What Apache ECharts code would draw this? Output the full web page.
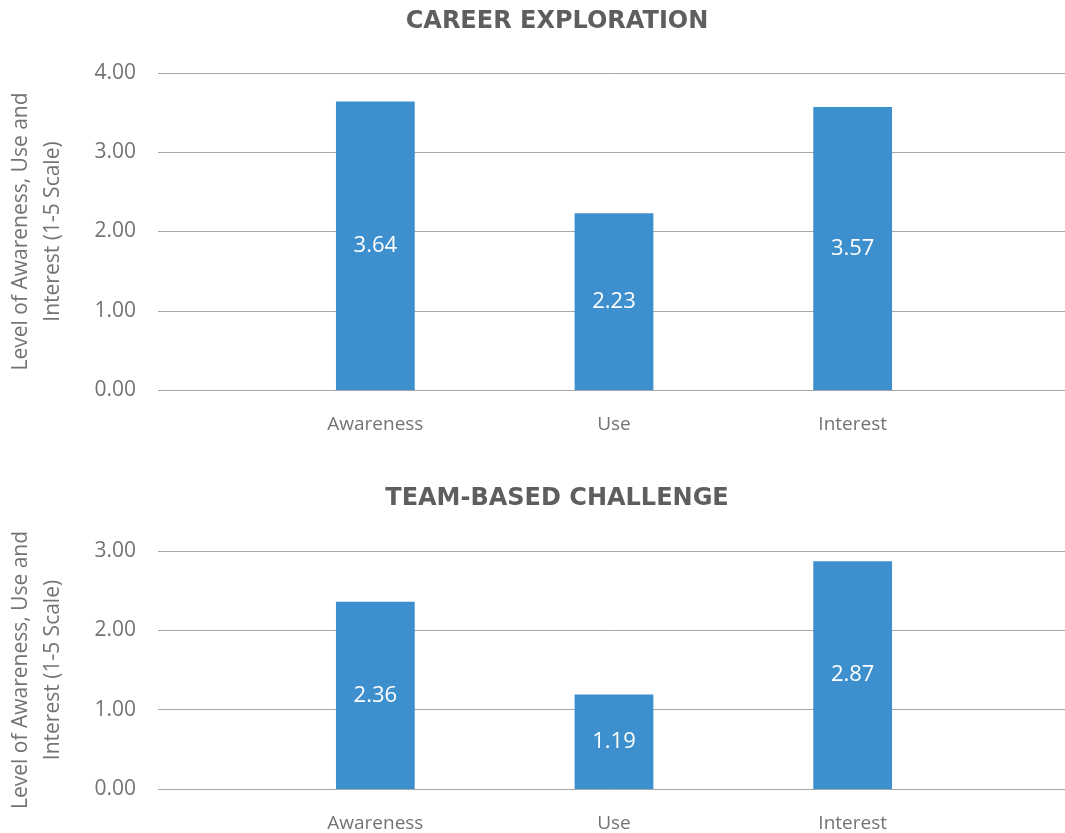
<!DOCTYPE html>
<html>
<head>
<meta charset="utf-8">
<script src="https://cdn.jsdelivr.net/npm/echarts@6/dist/echarts.min.js"></script>
<style>
  html, body { margin: 0; padding: 0; background: #fff; }
  #chart { width: 1065px; height: 833px; }
</style>
</head>
<body>
<div id="chart"></div>
<script>
const categories = ['Awareness', 'Use', 'Interest']
const careerValues = [3.64, 2.23, 3.57]
const teamValues = [2.36, 1.19, 2.87]
const titles = ['CAREER EXPLORATION', 'TEAM-BASED CHALLENGE']
const yMax = [4, 3]
const yName = 'Level of Awareness, Use and\nInterest (1-5 Scale)'

const barColor = '#3d8fcd'
const gridColor = '#a6a6a6'
const textColor = '#737373'
const font = '"Open Sans", Lato, sans-serif'

// plot boxes: outer one carries gridlines, inner one carries the bars
const panels = [
  { top: 73, height: 317, titleTop: 5 },
  { top: 551, height: 238, titleTop: 482 }
]

const chart = echarts.init(document.getElementById('chart'))

const grid = []
const xAxis = []
const yAxis = []
const series = []
const title = []

panels.forEach((p, i) => {
  title.push({
    text: titles[i],
    left: 552,
    textAlign: 'center',
    top: p.titleTop,
    textStyle: { fontFamily: '"DejaVu Sans", sans-serif', fontWeight: 'bold', fontSize: 24, color: '#5e5e5e' }
  })
  // outer grid (gridlines + y labels)
  grid.push({ left: 158, width: 907, top: p.top, height: p.height, outerBoundsMode: 'none', containLabel: false })
  // inner grid (bars + categories)
  grid.push({ left: 256, width: 716, top: p.top, height: p.height, outerBoundsMode: 'none', containLabel: false })

  const outer = i * 2
  const inner = i * 2 + 1

  xAxis.push({ gridIndex: outer, type: 'category', data: [''], show: false })
  xAxis.push({
    gridIndex: inner,
    type: 'category',
    data: categories,
    axisLine: { show: false },
    axisTick: { show: false },
    axisLabel: { color: textColor, fontSize: 19, fontFamily: font, margin: 25 }
  })

  yAxis.push({
    gridIndex: outer,
    type: 'value',
    min: 0,
    max: yMax[i],
    interval: 1,
    name: yName,
    nameLocation: 'middle',
    nameRotate: 90,
    nameGap: 89,
    nameTextStyle: { color: textColor, fontSize: 21, fontFamily: font, lineHeight: 32 },
    axisLine: { show: false },
    axisTick: { show: false },
    axisLabel: {
      color: textColor,
      fontSize: 21,
      fontFamily: font,
      margin: 22,
      formatter: (v) => v.toFixed(2)
    },
    splitLine: { show: true, lineStyle: { color: gridColor, width: 1 } }
  })
  yAxis.push({ gridIndex: inner, type: 'value', min: 0, max: yMax[i], show: false })

  series.push({
    type: 'bar',
    xAxisIndex: inner,
    yAxisIndex: inner,
    data: i === 0 ? careerValues : teamValues,
    barWidth: '33%',
    itemStyle: { color: barColor },
    label: {
      show: true,
      position: 'inside',
      color: '#fff',
      fontSize: 22,
      fontFamily: font,
      formatter: (params) => params.value.toFixed(2)
    }
  })
})

chart.setOption({
  animation: false,
  title,
  grid,
  xAxis,
  yAxis,
  series
})
</script>
</body>
</html>
